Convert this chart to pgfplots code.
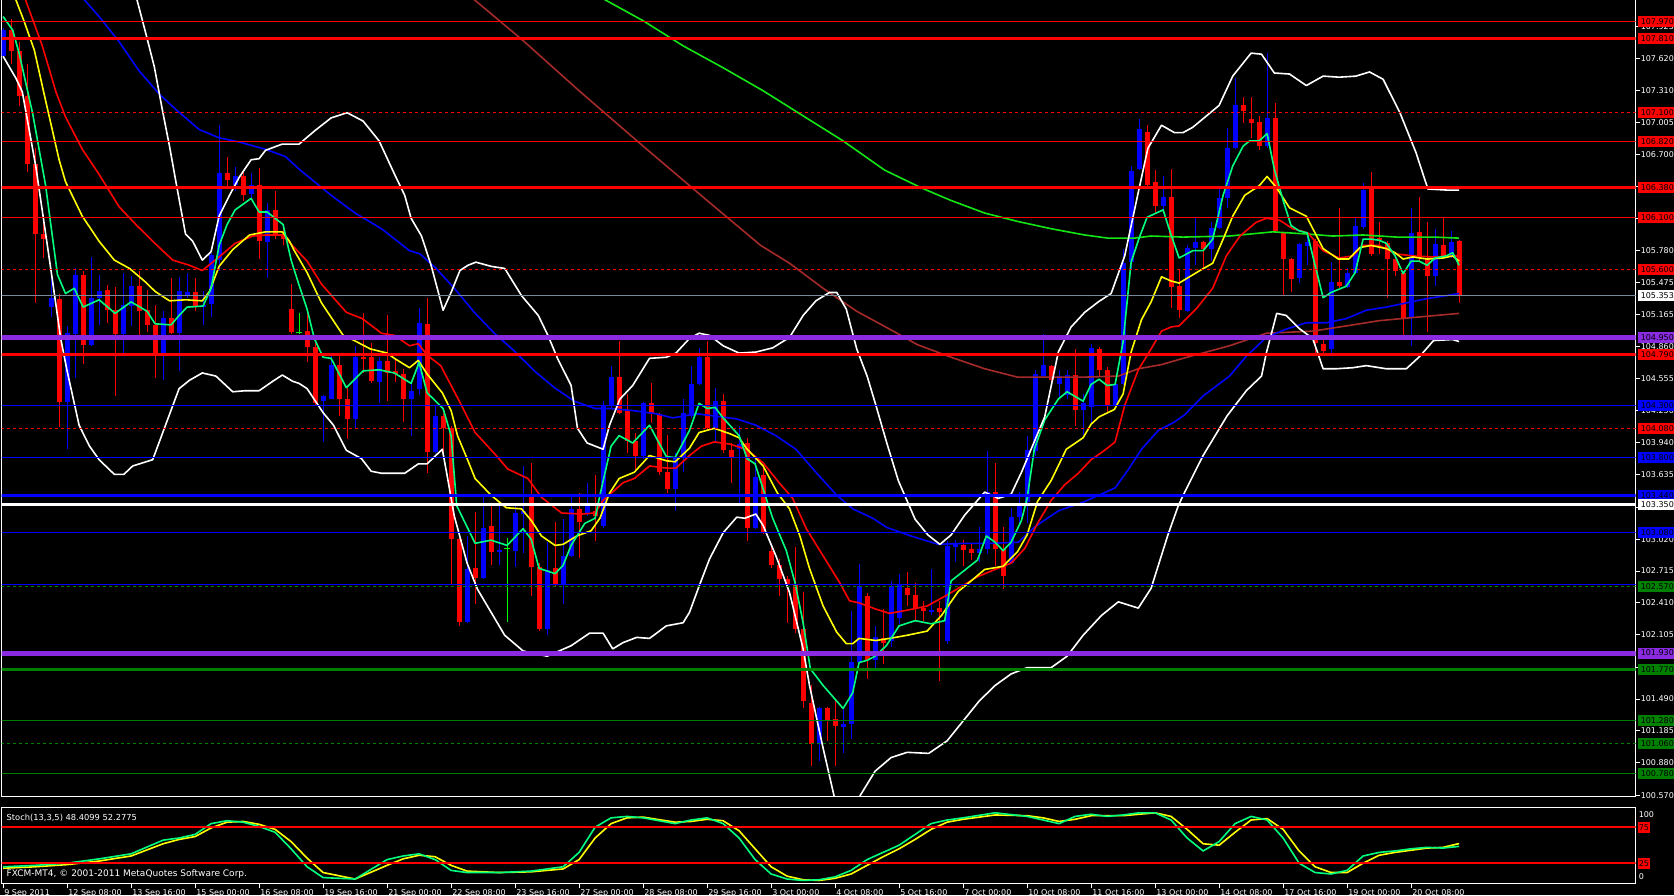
\documentclass[border=0pt]{standalone}
\usepackage{pgfplots}
\pgfplotsset{compat=1.18}
\usepackage{pgfplotstable}
\usepackage{fontspec}
\setmainfont{DejaVu Sans}
\definecolor{mtblue}{RGB}{0,0,255}
\definecolor{mtred}{RGB}{255,0,0}
\definecolor{springg}{RGB}{0,255,127}
\definecolor{mtyellow}{RGB}{255,255,0}
\definecolor{brownma}{RGB}{165,42,42}
\definecolor{limema}{RGB}{20,230,20}
\definecolor{bviolet}{RGB}{138,43,226}
\definecolor{dgreen}{RGB}{0,128,0}
\definecolor{slate}{RGB}{119,136,153}
\definecolor{dojig}{RGB}{0,255,0}

\pgfplotstableread{
x o h l c
0 107.64 107.91 107.63 107.89
6 105.24 105.55 105.15 105.33
8 104.33 105.06 103.88 104.99
9 104.98 105.61 104.56 105.55
11 104.88 105.72 104.87 105.33
12 105.33 105.55 105.07 105.39
15 104.98 105.57 104.77 105.26
16 105.25 105.54 105.06 105.44
20 104.80 105.20 104.54 105.14
22 104.99 105.53 104.63 105.39
23 105.36 105.57 105.33 105.38
25 105.24 105.39 105.07 105.26
26 105.27 105.76 105.15 105.74
27 105.69 106.98 105.59 106.52
29 106.41 106.58 106.35 106.49
31 106.32 106.52 106.27 106.41
33 105.86 106.24 105.52 106.17
40 104.34 104.40 103.95 104.39
41 104.36 104.80 104.36 104.69
44 104.17 104.87 104.08 104.76
47 104.52 104.76 104.32 104.72
51 104.36 104.51 104.01 104.44
52 104.46 105.23 104.40 105.09
54 103.85 104.30 103.84 104.20
58 102.23 103.05 102.22 102.73
60 102.65 103.42 102.64 103.13
62 102.90 103.34 102.77 102.92
64 102.91 103.37 102.75 103.27
65 103.26 103.72 102.89 103.29
68 102.16 102.99 102.10 102.72
70 102.59 103.21 102.40 102.86
71 102.86 103.42 102.85 103.31
73 103.26 103.56 103.24 103.36
75 103.15 104.34 103.13 104.30
76 104.30 104.68 104.27 104.57
80 103.82 104.33 103.79 104.32
84 103.50 103.84 103.29 103.80
85 103.80 104.36 103.66 104.23
86 104.20 104.68 104.18 104.50
87 104.50 104.85 104.49 104.76
89 104.08 104.47 103.96 104.34
92 103.88 104.10 103.37 103.93
94 103.13 103.80 103.12 103.61
102 101.06 101.41 100.90 101.40
105 101.22 101.40 100.97 101.25
106 101.25 102.33 101.11 101.84
107 101.84 102.78 101.83 102.57
109 101.86 102.19 101.79 102.08
111 102.05 102.62 101.99 102.57
112 102.27 102.69 102.21 102.59
116 102.32 102.73 102.29 102.34
118 102.05 103.00 102.02 102.95
119 102.94 103.01 102.80 102.98
122 102.89 103.14 102.80 102.93
123 102.93 103.86 102.88 103.47
126 102.79 103.32 102.78 103.23
127 103.23 103.47 103.17 103.34
128 103.38 104.01 103.17 103.87
129 103.86 104.64 103.82 104.60
130 104.58 104.98 104.57 104.69
132 104.50 104.64 104.36 104.58
133 104.40 104.64 104.36 104.59
135 104.26 104.41 104.02 104.32
136 104.28 104.89 104.12 104.85
139 104.30 104.50 104.28 104.50
140 104.50 105.80 104.49 105.66
141 105.67 106.59 105.60 106.54
142 106.56 107.04 106.55 106.94
145 106.21 106.49 106.17 106.29
148 105.20 105.83 105.19 105.81
149 105.81 106.09 105.64 105.86
151 105.80 106.05 105.68 106.00
152 106.00 106.40 105.99 106.28
153 106.28 106.95 106.19 106.76
154 106.76 107.43 106.75 107.17
158 106.78 107.67 106.76 107.05
162 105.52 105.85 105.47 105.84
163 105.82 105.95 105.64 105.86
166 104.84 105.67 104.80 105.48
168 105.43 105.61 105.42 105.57
169 105.57 106.09 105.56 106.02
170 106.01 106.43 105.99 106.36
176 105.14 106.19 104.87 105.95
179 105.54 105.99 105.44 105.84
181 105.73 105.97 105.71 105.86
}\bull

\pgfplotstableread{
x o h l c
1 107.89 108.00 107.57 107.69
2 107.69 107.78 107.16 107.26
3 107.26 107.57 106.53 106.61
4 106.61 106.76 105.28 105.94
5 105.94 106.05 105.71 105.89
7 105.32 105.37 104.09 104.33
10 105.55 105.59 104.70 104.88
13 105.40 105.45 105.09 105.21
14 105.21 105.43 104.39 104.98
17 105.44 105.59 104.94 105.20
18 105.21 105.40 105.00 105.07
19 105.07 105.26 104.56 104.80
21 105.14 105.52 104.98 104.99
24 105.38 105.52 105.20 105.24
28 106.52 106.68 106.37 106.46
30 106.49 106.54 106.26 106.31
32 106.41 106.57 105.70 105.87
34 106.17 106.35 105.89 105.94
35 105.94 106.03 105.83 105.89
36 105.22 105.46 104.98 105.00
38 105.01 105.21 104.71 104.86
39 104.86 104.90 104.30 104.32
42 104.69 104.80 104.20 104.36
43 104.36 104.47 103.98 104.17
45 104.76 105.18 104.61 104.74
46 104.76 104.90 104.51 104.53
48 104.72 105.16 104.34 104.61
49 104.63 104.75 104.52 104.60
50 104.60 104.65 104.14 104.36
53 105.08 105.33 103.65 103.85
55 104.20 104.23 103.85 104.08
56 104.08 104.10 102.59 103.02
57 103.02 103.03 102.19 102.23
59 102.74 103.28 102.40 102.65
61 103.15 103.34 102.77 102.90
66 103.42 103.75 102.48 102.75
67 102.75 102.79 102.14 102.16
69 102.74 103.18 102.57 102.59
72 103.31 103.46 102.84 103.18
74 103.29 103.63 103.00 103.24
77 104.57 104.92 104.22 104.23
78 104.25 104.41 103.84 103.96
79 103.96 104.04 103.67 103.82
81 104.32 104.51 104.13 104.22
82 104.22 104.23 103.63 103.66
83 103.66 104.02 103.46 103.50
88 104.76 104.92 104.06 104.08
90 104.34 104.41 103.84 103.87
91 103.87 103.94 103.56 103.80
93 103.94 103.99 103.00 103.13
95 103.63 103.70 103.07 103.08
96 102.91 102.94 102.74 102.77
97 102.77 102.83 102.48 102.64
98 102.64 102.67 102.22 102.59
99 102.59 102.94 102.12 102.16
100 102.16 102.51 101.40 101.47
101 101.45 101.62 100.85 101.06
103 101.40 101.41 101.09 101.28
104 101.30 101.49 100.85 101.23
108 102.48 102.50 101.68 101.86
110 102.07 102.35 101.83 102.03
113 102.55 102.71 102.38 102.49
114 102.49 102.60 102.24 102.36
115 102.36 102.43 102.24 102.33
117 102.36 102.43 101.66 102.32
120 102.96 103.01 102.76 102.92
121 102.93 102.98 102.82 102.89
124 103.47 103.75 102.76 102.93
125 102.93 103.14 102.54 102.67
131 104.68 104.69 104.52 104.54
134 104.59 104.84 104.10 104.26
137 104.84 104.86 104.57 104.64
138 104.64 104.67 104.23 104.30
143 106.92 106.98 106.40 106.41
144 106.44 106.55 106.14 106.21
146 106.29 106.56 105.23 105.43
147 105.44 105.60 105.14 105.21
150 105.86 105.87 105.61 105.80
155 107.17 107.25 107.00 107.12
156 107.04 107.25 106.86 107.00
157 107.01 107.07 106.74 106.78
159 107.05 107.19 105.95 105.97
160 105.95 105.96 105.35 105.70
161 105.70 105.71 105.38 105.51
164 105.87 105.89 104.80 104.90
165 104.89 104.95 104.78 104.82
167 105.48 106.19 105.42 105.44
171 106.37 106.53 105.73 105.75
172 105.90 106.05 105.75 105.88
173 105.85 105.87 105.33 105.70
174 105.70 105.73 105.54 105.59
175 105.57 105.59 104.97 105.13
177 105.96 106.29 105.67 105.71
178 105.71 106.05 105.00 105.54
180 105.83 106.09 105.71 105.73
182 105.87 105.88 105.28 105.35
}\bear

\pgfplotstableread{
x o h l c
37 105.00 105.18 104.98 105.00
63 102.93 103.03 102.23 102.93
}\doji

\tikzset{lvl/.style={anchor=west, inner sep=0pt, inner xsep=3pt, minimum height=11pt, text=black, font=\fontsize{8}{9}\selectfont, xshift=2pt}}

\begin{document}
\begin{tikzpicture}[x=1pt,y=1pt]
\useasboundingbox (0,0) rectangle (1674,895);
\fill[black] (0,0) rectangle (1674,895);

\begin{axis}[
  at={(2,94)}, anchor=south west, scale only axis, width=1634pt, height=799pt,
  xmin=-0.1875, xmax=204.06, ymin=100.555, ymax=108.200,
  clip mode=individual,
  axis line style={white, line width=1pt},
  xtick=\empty,
  ytick pos=right, yticklabel pos=right, tick align=outside, major tick length=4pt,
  tick style={white, line width=1pt},
  ytick={107.925,107.620,107.310,107.005,106.700,106.390,106.085,105.780,105.475,105.165,104.860,104.555,104.250,103.940,103.635,103.325,103.020,102.715,102.410,102.105,101.795,101.490,101.185,100.880,100.570},
  yticklabels={107.925,107.620,107.310,107.005,106.700,106.390,106.085,105.780,105.475,105.165,104.860,104.555,104.250,103.940,103.635,103.325,103.020,102.715,102.410,102.105,101.795,101.490,101.185,100.880,100.570},
  yticklabel style={text=white, anchor=west, inner sep=0pt, xshift=1pt, font=\fontsize{8}{9}\selectfont},
]
% candles: wicks then bodies
\addplot[draw=none, mark=none, forget plot, error bars/.cd, y dir=plus, y explicit, error mark=none, error bar style={draw=mtblue, line width=1pt}]
  table[x=x, y=l, y error plus expr=\thisrow{h}-\thisrow{l}] {\bull};
\addplot[draw=none, mark=none, forget plot, error bars/.cd, y dir=plus, y explicit, error mark=none, error bar style={draw=mtblue, line width=5pt}]
  table[x=x, y=o, y error plus expr=\thisrow{c}-\thisrow{o}] {\bull};
\addplot[draw=none, mark=none, forget plot, error bars/.cd, y dir=plus, y explicit, error mark=none, error bar style={draw=mtred, line width=1pt}]
  table[x=x, y=l, y error plus expr=\thisrow{h}-\thisrow{l}] {\bear};
\addplot[draw=none, mark=none, forget plot, error bars/.cd, y dir=plus, y explicit, error mark=none, error bar style={draw=mtred, line width=5pt}]
  table[x=x, y=c, y error plus expr=\thisrow{o}-\thisrow{c}] {\bear};
\addplot[draw=none, mark=none, forget plot, error bars/.cd, y dir=plus, y explicit, error mark=none, error bar style={draw=dojig, line width=1pt}]
  table[x=x, y=l, y error plus expr=\thisrow{h}-\thisrow{l}] {\doji};
\addplot[only marks, mark=-, mark size=3pt, mark options={draw=dojig, line width=1pt}, forget plot]
  table[x=x, y=c] {\doji};

% lime MA
\addplot[limema, line width=1.6pt, line join=round] coordinates {(70,108.41)(74.3,108.22)(80,107.98)(85,107.74)(90,107.53)(95,107.31)(100,107.07)(105,106.83)(110.2,106.55)(114.8,106.38)(118.5,106.26)(122.7,106.14)(126.8,106.06)(131,105.99)(135.2,105.93)(138.1,105.90)(141.4,105.90)(143.5,105.92)(147.5,105.91)(153.3,105.92)(158.7,105.96)(162.9,105.94)(166.2,105.92)(170,105.93)(174.2,105.91)(178.8,105.91)(182,105.90)};
% brown MA
\addplot[brownma, line width=1.6pt, line join=round] coordinates {(55,108.41)(58.3,108.22)(65,107.79)(72,107.31)(80,106.78)(88,106.26)(94.7,105.83)(98.3,105.66)(102.5,105.42)(106.7,105.20)(110.8,105.03)(114.3,104.88)(118.5,104.76)(122.7,104.65)(126.8,104.57)(131,104.57)(135.2,104.57)(139.4,104.58)(141.9,104.65)(144.8,104.69)(147.5,104.75)(153.3,104.87)(157.9,104.99)(163.7,105.01)(167.9,105.06)(172,105.11)(176.2,105.14)(182,105.18)};
% blue MA
\addplot[mtblue, line width=1.6pt, line join=round] coordinates {(8,108.51)(9.7,108.22)(12,108.02)(14.5,107.78)(17,107.50)(19.5,107.28)(21.6,107.13)(24.5,106.94)(27,106.86)(29.5,106.82)(32.8,106.75)(35.3,106.68)(37,106.56)(41,106.31)(44,106.14)(47.3,105.99)(50.8,105.78)(52.1,105.75)(54,105.62)(56.4,105.42)(58.9,105.19)(61.4,104.99)(63.9,104.82)(66.4,104.63)(68.9,104.47)(71.4,104.34)(74,104.27)(75.8,104.27)(78.7,104.25)(81.6,104.22)(83.7,104.18)(86.7,104.22)(88.7,104.20)(91.7,104.17)(94.1,104.11)(96.6,104.01)(99.1,103.88)(101.6,103.66)(104.2,103.44)(106.2,103.31)(108.7,103.22)(110.5,103.13)(113.5,103.05)(116.9,102.97)(120.2,102.98)(123.5,102.98)(126.9,102.99)(129,103.14)(131.9,103.29)(135.2,103.38)(139,103.51)(140.6,103.68)(142.3,103.88)(144.4,104.06)(146.4,104.14)(147.7,104.21)(150,104.39)(153.3,104.58)(155.4,104.77)(157.9,104.95)(160.4,105.03)(162.9,105.09)(165.4,105.09)(167.9,105.13)(170.4,105.21)(172.9,105.24)(175.4,105.28)(177.9,105.32)(180.4,105.35)(182,105.37)};
% red MA
\addplot[mtred, line width=1.6pt, line join=round] coordinates {(1.5,108.60)(2.8,108.18)(4.9,107.74)(6.6,107.30)(7.8,107.06)(9.9,106.75)(12,106.51)(14.5,106.20)(16.6,106.03)(18.7,105.87)(21.2,105.69)(23.3,105.64)(24.9,105.59)(27,105.72)(29,105.85)(31.2,105.92)(32.8,105.93)(34.9,105.93)(36.4,105.81)(38,105.68)(39.8,105.46)(42.9,105.19)(44.9,105.13)(47.3,104.99)(48.9,104.97)(50.8,104.87)(51.9,104.89)(53,104.78)(54.7,104.68)(56,104.49)(57.3,104.30)(59,104.04)(61.4,103.84)(63.1,103.69)(65.6,103.60)(67.3,103.42)(69.8,103.27)(72.3,103.26)(74,103.27)(75,103.39)(77.5,103.56)(78.9,103.60)(80.8,103.72)(82.9,103.70)(84.1,103.70)(85.8,103.82)(87.3,103.91)(88.9,103.95)(90.8,103.93)(92.9,103.88)(95,103.75)(97,103.56)(98.7,103.41)(100.4,103.12)(102.5,102.86)(104.6,102.60)(105.8,102.43)(107,102.41)(109.1,102.35)(110.8,102.31)(113,102.34)(115.5,102.38)(118.1,102.49)(121.8,102.66)(124,102.73)(126,102.79)(127.7,102.93)(129.3,103.17)(131,103.39)(132.7,103.54)(134.4,103.65)(136,103.78)(137.7,103.87)(139,103.95)(140.2,104.30)(141.9,104.64)(143.5,104.84)(144.8,105.01)(146,105.05)(147,105.06)(149.1,105.22)(151.2,105.42)(152.9,105.73)(154.6,105.92)(156.6,106.05)(157.9,106.09)(159.6,106.07)(161.2,105.99)(163.1,105.95)(165,105.78)(167,105.71)(168.7,105.73)(170,105.83)(172,105.83)(174,105.75)(176.2,105.73)(178.7,105.72)(182,105.73)};
% yellow MA
\addplot[mtyellow, line width=1.6pt, line join=round] coordinates {(0,108.41)(1.4,108.22)(2.6,107.98)(3.9,107.70)(5.3,107.22)(7,106.65)(7.8,106.44)(9.9,106.11)(12,105.87)(13.9,105.69)(15.8,105.61)(17.8,105.48)(19,105.39)(20.8,105.30)(22.8,105.31)(24.9,105.30)(25.8,105.39)(27,105.63)(28.7,105.79)(30.8,105.93)(32.8,105.96)(34.9,105.96)(35.8,105.87)(36.4,105.78)(38,105.57)(39.8,105.28)(42.5,104.97)(43.9,104.92)(45.9,104.84)(48,104.80)(48.9,104.75)(50.8,104.66)(51.9,104.73)(53,104.60)(54.9,104.42)(56,104.25)(56.8,104.01)(58,103.79)(59,103.60)(61,103.44)(62.9,103.32)(64.8,103.31)(66,103.20)(67.3,103.05)(69,102.96)(70,102.97)(71.7,103.05)(73.5,103.10)(74.6,103.22)(75.8,103.46)(77,103.60)(78.9,103.66)(80.8,103.82)(82.9,103.77)(84,103.76)(85.8,103.89)(87,104.04)(88.9,104.08)(90.8,104.03)(92,103.99)(92.9,103.89)(95,103.72)(96.8,103.46)(98.3,103.31)(99.6,103.05)(100.8,102.74)(102.5,102.38)(104.2,102.13)(105.4,102.02)(106.2,102.02)(107,102.07)(109.1,102.05)(110.8,102.07)(113,102.10)(115.5,102.14)(117.3,102.29)(119.4,102.52)(121,102.62)(122.7,102.73)(125,102.76)(126.8,102.90)(128,103.06)(129.3,103.38)(131,103.58)(132.9,103.88)(135,103.99)(136,104.12)(137,104.19)(138.9,104.26)(140,104.41)(141,104.81)(142.3,105.12)(143.5,105.29)(144.8,105.53)(146,105.49)(147,105.47)(149.6,105.59)(151.2,105.66)(152.5,105.89)(153.7,106.11)(155.2,106.31)(157,106.40)(158,106.49)(159.2,106.38)(160.8,106.19)(162.9,106.11)(165,105.80)(166.9,105.70)(168.2,105.70)(169.6,105.81)(171,105.83)(172.9,105.80)(174,105.76)(175,105.70)(176.2,105.72)(178,105.70)(180,105.71)(181.2,105.73)(182,105.68)};
% green fast MA
\addplot[springg, line width=1.6pt, line join=round] coordinates {(0,108.02)(1.2,107.89)(2,107.67)(3.7,107.09)(5.3,106.41)(6.8,105.55)(7.8,105.37)(8.9,105.42)(10,105.24)(12,105.31)(14,105.18)(16,105.29)(18,105.20)(19,105.08)(21,105.07)(22,105.16)(23,105.24)(25,105.25)(26,105.42)(27,105.83)(28,106.03)(29,106.17)(31,106.28)(32,106.15)(33,106.15)(35,106.03)(36,105.69)(37,105.45)(38,105.22)(38.9,104.94)(40,104.76)(41,104.75)(42.9,104.47)(45,104.63)(47,104.64)(48.9,104.61)(51,104.51)(52,104.71)(53,104.42)(55,104.27)(56,104.01)(56.7,103.34)(59,102.98)(61,103.01)(63,102.96)(65,103.12)(66,103.02)(67,102.74)(69,102.69)(70,102.77)(71,102.96)(72.7,103.17)(74,103.22)(74.6,103.44)(76,103.91)(77,104.01)(78.7,103.94)(80.8,104.11)(82.9,103.81)(84,103.80)(85.8,104.06)(87,104.32)(88,104.27)(89,104.28)(90,104.18)(92,104.01)(93,103.79)(94,103.74)(95,103.50)(96.2,103.22)(97.9,102.91)(99,102.60)(100,102.22)(100.9,101.78)(102.5,101.62)(105,101.40)(106.2,101.55)(107,101.84)(108,101.86)(109,101.90)(110.4,102.00)(112,102.19)(114,102.24)(116,102.21)(117.7,102.24)(118.5,102.62)(121.8,102.82)(122.9,103.05)(124,102.99)(125,102.91)(126,102.99)(127.3,103.20)(128,103.41)(128.9,103.88)(130.2,104.16)(131.9,104.36)(133,104.43)(135,104.34)(136,104.50)(137,104.55)(138,104.49)(139,104.50)(140,104.91)(141,105.67)(142,105.90)(143,106.10)(145,106.17)(146,105.93)(147,105.71)(148.7,105.78)(150,105.78)(151.2,105.89)(152.5,106.31)(153.7,106.59)(155,106.78)(155.8,106.83)(157,106.83)(158,106.90)(158.9,106.56)(160,106.26)(161,106.02)(162,105.97)(163,105.95)(165,105.33)(166,105.38)(167.9,105.44)(169,105.57)(170,105.89)(171,105.89)(172,105.88)(172.9,105.85)(174,105.73)(175,105.56)(176,105.68)(177,105.68)(178,105.64)(179,105.71)(180.4,105.73)(181.2,105.76)(182,105.64)};
% Bollinger bands
\addplot[white, line width=1.6pt, line join=round] coordinates {(15,108.60)(16.6,108.22)(17.8,107.87)(18.9,107.54)(19.9,107.13)(20.8,106.78)(21.6,106.44)(22.8,105.94)(23.7,105.87)(24.9,105.69)(26,105.77)(27,106.11)(28.3,106.31)(29.5,106.48)(31,106.65)(32,106.66)(32.8,106.74)(34.9,106.80)(37,106.80)(39,106.93)(41,107.05)(43,107.10)(45,107.02)(47,106.83)(49,106.50)(50.2,106.31)(51,106.09)(52.3,105.92)(53.5,105.64)(55,105.21)(56,105.38)(57.1,105.59)(58.1,105.64)(59.1,105.67)(61,105.63)(62.7,105.61)(64.8,105.35)(66.9,105.16)(68.1,104.97)(69.3,104.75)(71,104.49)(71.8,104.08)(73,103.94)(75,103.88)(75.8,104.11)(77.1,104.36)(78.7,104.49)(80.8,104.75)(82.9,104.76)(84.1,104.80)(85.8,104.94)(87,104.99)(88.3,104.97)(90,104.87)(92,104.80)(94.1,104.81)(96.2,104.85)(98.3,104.95)(100,105.16)(101.6,105.30)(103.3,105.38)(104.2,105.38)(105.4,105.22)(106.7,104.84)(108,104.58)(109.1,104.30)(110.5,103.93)(111.9,103.58)(114,103.21)(115.6,103.06)(117.1,102.97)(118.5,103.06)(120.2,103.25)(122.7,103.47)(124.4,103.41)(126,103.45)(127.3,103.66)(128.5,103.88)(130.2,104.19)(131.9,104.81)(133.5,105.05)(135.2,105.19)(136.9,105.29)(138.5,105.37)(140.2,105.73)(141.9,106.34)(143.1,106.76)(144.8,106.98)(146.4,106.91)(147.5,106.91)(148.7,106.96)(152,107.17)(153.7,107.45)(156,107.67)(157.3,107.66)(158.9,107.48)(160.8,107.47)(162.9,107.36)(165,107.45)(167,107.44)(169.1,107.45)(170.8,107.49)(172.5,107.42)(174.6,107.10)(176.6,106.72)(178.1,106.37)(180.4,106.36)(182,106.36)};
\addplot[white, line width=1.6pt, line join=round] coordinates {(0,107.64)(1.6,107.43)(2.4,107.30)(4.1,106.58)(6.2,105.48)(7.2,104.94)(8,104.63)(9.5,104.11)(10.8,103.91)(12,103.78)(13.9,103.64)(15.1,103.64)(16.2,103.72)(18.7,103.78)(20.3,104.11)(22,104.46)(23.3,104.54)(24.9,104.61)(26.6,104.58)(28.7,104.43)(30.3,104.44)(32,104.44)(33.7,104.53)(34.9,104.59)(36.2,104.53)(37,104.51)(38,104.46)(40,104.23)(41.3,104.11)(42.9,103.87)(44.8,103.79)(46,103.67)(47.3,103.65)(50.2,103.65)(51.9,103.74)(53,103.74)(54.9,103.88)(55.5,103.63)(56.4,103.24)(58,102.79)(59.3,102.54)(61,102.32)(62.7,102.10)(65,101.95)(68,101.90)(71,102.00)(73.3,102.12)(75,102.12)(76.2,101.97)(77.5,102.03)(79.2,102.08)(80.8,102.07)(82.9,102.19)(85,102.22)(85.8,102.32)(87,102.57)(88.3,102.83)(90,103.08)(91.7,103.23)(92.7,103.22)(94.1,103.26)(95,103.15)(96.6,102.86)(98.3,102.51)(100,101.97)(100.8,101.62)(102.5,101.02)(104,100.52)(105.5,100.37)(107,100.55)(109,100.80)(111,100.93)(113,100.98)(115.7,100.97)(118,101.09)(120,101.28)(122,101.47)(124,101.62)(126,101.73)(128,101.79)(131,101.79)(133,101.90)(135,102.10)(137.3,102.29)(139.4,102.42)(141.9,102.36)(143.5,102.55)(145.6,103.06)(146.9,103.34)(147.7,103.47)(150,103.82)(153,104.20)(155.4,104.44)(157.3,104.58)(157.9,104.80)(159.2,105.18)(160.4,105.16)(162.1,105.03)(163.7,104.94)(165,104.65)(166.6,104.65)(168.7,104.66)(170.4,104.68)(172.9,104.65)(175.4,104.65)(177.1,104.77)(178.8,104.92)(181.2,104.93)(182,104.91)};

% horizontal levels
\addplot[mtred, line width=1pt] coordinates {(-1,107.97)(206,107.97)};
\addplot[mtred, line width=3pt] coordinates {(-1,107.81)(206,107.81)};
\addplot[mtred, line width=1pt, dash pattern=on 3pt off 3pt] coordinates {(-1,107.10)(206,107.10)};
\addplot[mtred, line width=1pt] coordinates {(-1,106.82)(206,106.82)};
\addplot[mtred, line width=3pt] coordinates {(-1,106.38)(206,106.38)};
\addplot[mtred, line width=1pt] coordinates {(-1,106.10)(206,106.10)};
\addplot[mtred, line width=1pt, dash pattern=on 3pt off 3pt] coordinates {(-1,105.60)(206,105.60)};
\addplot[slate, line width=1pt] coordinates {(-1,105.353)(206,105.353)};
\addplot[bviolet, line width=5pt] coordinates {(-1,104.95)(206,104.95)};
\addplot[mtred, line width=3pt] coordinates {(-1,104.79)(206,104.79)};
\addplot[mtblue, line width=1pt] coordinates {(-1,104.30)(206,104.30)};
\addplot[mtred, line width=1pt, dash pattern=on 3pt off 3pt] coordinates {(-1,104.08)(206,104.08)};
\addplot[mtblue, line width=1pt] coordinates {(-1,103.80)(206,103.80)};
\addplot[mtblue, line width=3pt] coordinates {(-1,103.44)(206,103.44)};
\addplot[white, line width=3pt] coordinates {(-1,103.35)(206,103.35)};
\addplot[mtblue, line width=1pt] coordinates {(-1,103.08)(206,103.08)};
\addplot[mtblue, line width=1pt] coordinates {(-1,102.585)(206,102.585)};
\addplot[dgreen, line width=1pt, dash pattern=on 3pt off 3pt] coordinates {(-1,102.565)(206,102.565)};
\addplot[bviolet, line width=5pt] coordinates {(-1,101.93)(206,101.93)};
\addplot[dgreen, line width=3pt] coordinates {(-1,101.77)(206,101.77)};
\addplot[dgreen, line width=1pt] coordinates {(-1,101.28)(206,101.28)};
\addplot[dgreen, line width=1pt, dash pattern=on 3pt off 3pt] coordinates {(-1,101.06)(206,101.06)};
\addplot[dgreen, line width=1pt] coordinates {(-1,100.78)(206,100.78)};

% level labels
\node[lvl, fill=mtred] at (axis cs:204.06,107.97) {107.970};
\node[lvl, fill=mtred] at (axis cs:204.06,107.81) {107.810};
\node[lvl, fill=mtred] at (axis cs:204.06,107.10) {107.100};
\node[lvl, fill=mtred] at (axis cs:204.06,106.82) {106.820};
\node[lvl, fill=mtred] at (axis cs:204.06,106.38) {106.380};
\node[lvl, fill=mtred] at (axis cs:204.06,106.10) {106.100};
\node[lvl, fill=mtred] at (axis cs:204.06,105.60) {105.600};
\node[lvl, fill=white] at (axis cs:204.06,105.353) {105.353};
\node[lvl, fill=bviolet] at (axis cs:204.06,104.95) {104.950};
\node[lvl, fill=mtred] at (axis cs:204.06,104.79) {104.790};
\node[lvl, fill=mtblue] at (axis cs:204.06,104.30) {104.300};
\node[lvl, fill=mtred] at (axis cs:204.06,104.08) {104.080};
\node[lvl, fill=mtblue] at (axis cs:204.06,103.80) {103.800};
\node[lvl, fill=mtblue] at (axis cs:204.06,103.44) {103.440};
\node[lvl, fill=white] at (axis cs:204.06,103.35) {103.350};
\node[lvl, fill=mtblue] at (axis cs:204.06,103.08) {103.080};
\node[lvl, fill=dgreen] at (axis cs:204.06,102.57) {102.570};
\node[lvl, fill=bviolet] at (axis cs:204.06,101.93) {101.930};
\node[lvl, fill=dgreen] at (axis cs:204.06,101.77) {101.770};
\node[lvl, fill=dgreen] at (axis cs:204.06,101.28) {101.280};
\node[lvl, fill=dgreen] at (axis cs:204.06,101.06) {101.060};
\node[lvl, fill=dgreen] at (axis cs:204.06,100.78) {100.780};
\end{axis}

\begin{axis}[
  at={(2,16)}, anchor=south west, scale only axis, width=1634pt, height=76pt,
  xmin=-0.1875, xmax=204.06, ymin=-3.2, ymax=102.4,
  clip mode=individual,
  axis line style={white, line width=1pt},
  ytick=\empty,
  xtick={0,8,...,176},
  xticklabels={9 Sep 2011,12 Sep 08:00,13 Sep 16:00,15 Sep 00:00,16 Sep 08:00,19 Sep 16:00,21 Sep 00:00,22 Sep 08:00,23 Sep 16:00,27 Sep 00:00,28 Sep 08:00,29 Sep 16:00,3 Oct 00:00,4 Oct 08:00,5 Oct 16:00,7 Oct 00:00,10 Oct 08:00,11 Oct 16:00,13 Oct 00:00,14 Oct 08:00,17 Oct 16:00,19 Oct 00:00,20 Oct 08:00},
  xtick pos=bottom, tick align=outside, major tick length=5pt,
  tick style={white, line width=1pt},
  xticklabel style={text=white, anchor=north west, inner sep=0pt, xshift=1pt, yshift=-1pt, font=\fontsize{8}{9}\selectfont},
]
\addplot[mtyellow, line width=1.6pt, line join=round] coordinates {(0,18)(4,20)(8,23)(12,28)(16,35)(20,52)(22,58)(24,62)(26,74)(28,82)(30,83)(32,79)(34,72)(36,55)(38,32)(40,12)(44,3)(48,22)(50,31)(52,36)(54,34)(56,22)(58,14)(62,12)(66,13)(70,17)(72,30)(74,60)(76,80)(78,88)(80,89)(84,82)(86,83)(88,86)(90,84)(92,70)(94,45)(96,20)(98,7)(100,2)(102,1)(104,4)(106,10)(108,22)(110,34)(112,45)(114,58)(116,72)(118,82)(120,86)(124,92)(128,91)(130,88)(132,83)(134,86)(136,91)(138,91)(140,91)(142,93)(144,95)(146,90)(148,72)(150,52)(152,50)(154,68)(156,85)(158,87)(160,72)(162,42)(164,20)(166,12)(168,12)(170,25)(172,36)(174,40)(176,43)(178,46)(180,47)(182,52.28)};
\addplot[springg, line width=1.6pt, line join=round] coordinates {(0,20)(4,22)(8,25)(12,31)(16,38)(20,57)(22,60)(24,65)(26,80)(28,84)(30,82)(32,76)(34,68)(36,45)(38,20)(40,5)(44,3)(48,30)(50,35)(52,38)(54,30)(56,15)(58,12)(62,12)(66,14)(70,20)(72,40)(74,75)(76,88)(78,90)(80,88)(84,80)(86,85)(88,88)(90,80)(92,60)(94,30)(96,10)(98,3)(100,1)(102,2)(104,6)(106,15)(108,30)(110,40)(112,50)(114,65)(116,80)(118,85)(120,88)(124,95)(128,90)(130,85)(132,80)(134,90)(136,93)(138,90)(140,92)(142,95)(144,95)(146,85)(148,60)(150,42)(152,55)(154,80)(156,90)(158,85)(160,60)(162,25)(164,12)(166,10)(168,15)(170,35)(172,40)(174,42)(176,45)(178,47)(180,46)(182,48.41)};
\addplot[mtred, line width=1.5pt] coordinates {(-1,75)(206,75)};
\addplot[mtred, line width=1.5pt] coordinates {(-1,25)(206,25)};
\node[lvl, fill=mtred, inner xsep=1pt] at (axis cs:204.06,75) {75};
\node[lvl, fill=mtred, inner xsep=1pt] at (axis cs:204.06,25) {25};
\node[anchor=west, inner sep=0pt, text=white, font=\fontsize{8}{9}\selectfont, xshift=3pt] at (axis cs:204.06,92.6) {100};
\node[anchor=west, inner sep=0pt, text=white, font=\fontsize{8}{9}\selectfont, xshift=3pt] at (axis cs:204.06,6.9) {0};
\node[anchor=west, inner sep=0pt, text=white, font=\fontsize{8.3}{9}\selectfont] at (rel axis cs:0.003,0.86) {Stoch(13,3,5) 48.4099 52.2775};
\node[anchor=west, inner sep=0pt, text=white, font=\fontsize{9}{10}\selectfont] at (rel axis cs:0.003,0.12) {FXCM-MT4, © 2001-2011 MetaQuotes Software Corp.};
\end{axis}
\end{tikzpicture}
\end{document}
